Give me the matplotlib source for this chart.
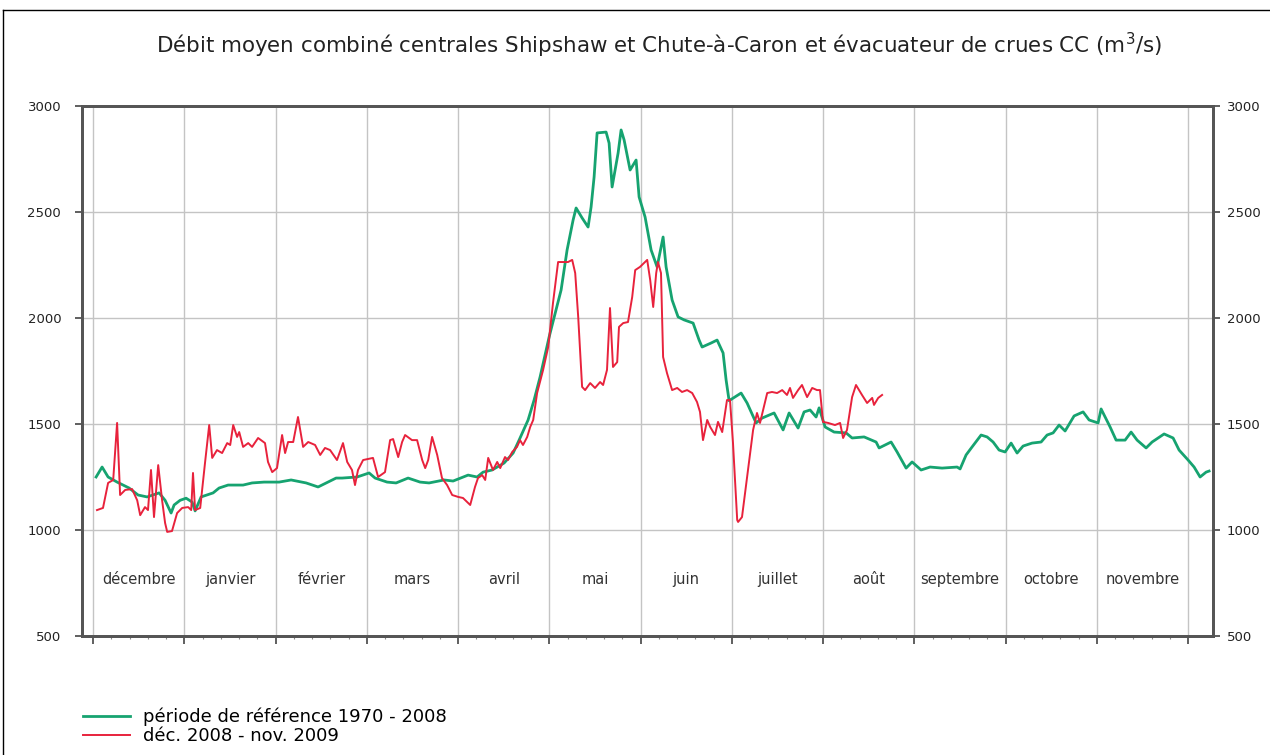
import matplotlib
matplotlib.use('Agg')
import matplotlib.pyplot as plt
import numpy as np
from matplotlib.lines import Line2D

plt.rcParams['font.family'] = ['DejaVu Sans']

months = ['décembre', 'janvier', 'février', 'mars', 'avril', 'mai',
          'juin', 'juillet', 'août', 'septembre', 'octobre', 'novembre']

# jours depuis le 1er décembre
ref_days = [1, 3, 5, 8, 12, 15, 18, 22, 24, 26, 27, 29, 31, 33, 34, 36, 40, 42, 45, 50,
            53, 57, 62, 66, 71, 75, 81, 83, 88, 92, 94, 98, 101, 105, 109, 112, 117, 120,
            125, 128, 130, 133, 137, 140, 142, 145, 147, 149, 152, 156, 158, 160, 161, 163,
            165, 166, 167, 168, 171, 172, 173, 175, 176, 177, 179, 181, 182, 184, 186, 188,
            190, 191, 193, 195, 197, 200, 202, 203, 206, 208, 210, 211, 212, 216, 218, 221,
            223, 227, 230, 232, 235, 237, 239, 241, 242, 244, 247, 251, 253, 257, 261, 262,
            266, 268, 271, 273, 276, 279, 283, 288, 289, 291, 293, 296, 298, 300, 302, 304,
            306, 308, 310, 313, 316, 318, 320, 322, 324, 327, 330, 332, 335, 336, 339, 341,
            344, 346, 348, 351, 353, 357, 360, 362, 365, 367, 369, 371, 372]
ref_vals = [1250, 1297, 1250, 1226, 1198, 1165, 1156, 1175, 1140, 1080, 1118, 1140, 1150,
            1132, 1090, 1156, 1175, 1198, 1212, 1212, 1222, 1226, 1226, 1236, 1222, 1203,
            1245, 1245, 1250, 1269, 1245, 1226, 1222, 1245, 1226, 1222, 1236, 1231, 1259,
            1250, 1273, 1283, 1316, 1363, 1424, 1519, 1613, 1722, 1910, 2132, 2321, 2462,
            2519, 2472, 2429, 2524, 2665, 2873, 2877, 2825, 2618, 2778, 2887, 2840, 2698,
            2745, 2571, 2476, 2321, 2241, 2382, 2241, 2085, 2005, 1991, 1976, 1896, 1863,
            1882, 1896, 1835, 1708, 1610, 1646, 1599, 1505, 1528, 1552, 1472, 1552, 1481,
            1557, 1566, 1533, 1576, 1486, 1462, 1458, 1434, 1439, 1415, 1387, 1415, 1368,
            1292, 1321, 1283, 1297, 1292, 1297, 1288, 1354, 1392, 1448, 1439, 1415, 1377,
            1368, 1410, 1363, 1396, 1410, 1415, 1448, 1458, 1495, 1467, 1538, 1557, 1519,
            1505, 1571, 1486, 1424, 1424, 1462, 1424, 1387, 1415, 1453, 1434, 1377, 1330,
            1297, 1250, 1273, 1278]

obs_days = [1.3, 3.3, 5, 6.7, 8, 9, 10.7, 13, 14.7, 15.7, 17.3, 18.3, 19.3, 20.3, 21.7, 23,
            24, 24.7, 26.3, 28, 29.7, 31.7, 32.7, 33.3, 34, 35.7, 37.3, 38.7, 39.7, 41.3,
            43, 44.7, 45.7, 46.7, 48, 48.7, 50, 51.7, 53, 55, 57.3, 58.3, 59.7, 61.3, 63,
            64, 65, 66.7, 68.3, 70, 71.7, 74, 75.7, 77.3, 79, 81.3, 83.3, 84.7, 86.3, 87.3,
            88.3, 90, 93.3, 95, 97.3, 99, 100, 101.7, 103, 104, 106.3, 108, 109.7, 110.7,
            111.7, 113, 114.7, 116.3, 118, 119.7, 121.7, 123.3, 124.7, 125.7, 127.3, 128.3,
            129.7, 130.7, 131.7, 133.3, 134.7, 135.7, 137.3, 138.3, 139.7, 141.3, 142.3,
            143.3, 144.7, 145.7, 146.7, 148, 150, 151.7, 153.3, 155, 156.7, 158.3, 159.7,
            160.7, 161.7, 163, 164, 165.7, 167.3, 169, 170, 171.3, 172.3, 173.3, 174.7,
            175.3, 176.7, 178.3, 179.7, 180.7, 182.3, 184, 184.7, 185.7, 186.7, 187.7, 188.3,
            189.3, 190, 191.3, 193, 194.7, 196.3, 198, 199.7, 201.3, 202.3, 203.3, 204.7,
            205.7, 207.3, 208.3, 209.7, 211.3, 212.3, 213.3, 214.7, 215, 216.3, 218, 220,
            221.3, 222.3, 224.7, 226.3, 228, 229.7, 231.3, 232.3, 233.3, 235, 236.3, 238,
            239.7, 241.3, 242.3, 243.3, 245, 247.3, 249, 250, 251.3, 253, 254.3, 256.3, 258,
            259.7, 260.3, 261.7, 263]
obs_vals = [1094, 1104, 1222, 1236, 1505, 1165, 1189, 1193, 1140, 1070, 1108, 1094, 1283,
            1061, 1306, 1140, 1033, 991, 995, 1080, 1104, 1108, 1094, 1269, 1094, 1104, 1316,
            1495, 1340, 1377, 1363, 1410, 1401, 1495, 1439, 1462, 1392, 1410, 1392, 1434,
            1410, 1321, 1273, 1292, 1448, 1363, 1415, 1415, 1533, 1392, 1415, 1401, 1354,
            1387, 1377, 1330, 1410, 1321, 1283, 1212, 1283, 1330, 1340, 1250, 1273, 1424,
            1429, 1344, 1415, 1448, 1424, 1424, 1330, 1292, 1330, 1439, 1354, 1245, 1212,
            1165, 1156, 1151, 1132, 1118, 1203, 1245, 1259, 1236, 1340, 1283, 1321, 1292,
            1344, 1330, 1368, 1392, 1424, 1401, 1439, 1486, 1519, 1646, 1755, 1863, 2071,
            2264, 2264, 2264, 2274, 2212, 2005, 1675, 1660, 1693, 1670, 1698, 1684, 1755,
            2047, 1769, 1792, 1958, 1976, 1981, 2099, 2226, 2241, 2264, 2274, 2179, 2052,
            2212, 2264, 2212, 1816, 1740, 1660, 1670, 1651, 1660, 1646, 1604, 1557, 1424,
            1519, 1486, 1448, 1510, 1462, 1613, 1613, 1410, 1047, 1038, 1061, 1250, 1472,
            1552, 1505, 1646, 1651, 1646, 1660, 1637, 1670, 1623, 1660, 1684, 1627, 1670,
            1660, 1660, 1510, 1505, 1495, 1505, 1434, 1472, 1627, 1684, 1637, 1599, 1623,
            1590, 1623, 1637]

y_ticks = [500, 1000, 1500, 2000, 2500, 3000]

fig = plt.figure(figsize=(12.7, 7.55), dpi=100)
ax = fig.add_axes([82 / 1270, 1 - 636 / 755, (1213 - 82) / 1270, (636 - 106) / 755])

month_len = 365 / 12
bounds = np.arange(13) * month_len

ax.plot(ref_days, ref_vals, color='#16a370', lw=2.0, zorder=3)
ax.plot(obs_days, obs_vals, color='#e8223c', lw=1.4, zorder=4)

ax.set_xlim(-3.7, 373.3)
ax.set_ylim(500, 3000)
ax.set_xticks(bounds)
ax.set_xticks(np.arange(0, 365, month_len / 5), minor=True)
ax.set_xticklabels([])
ax.set_yticks(y_ticks)
ax.tick_params(axis='y', direction='out', length=5, width=1.2, color='#444444',
               labelsize=9.5, labelcolor='#222222', pad=10)
ax.tick_params(axis='x', which='major', direction='out', length=6, width=1.2, color='#444444')
ax.tick_params(axis='x', which='minor', direction='out', length=2, width=0.8, color='#888888')

ax2 = ax.twinx()
ax2.set_ylim(500, 3000)
ax2.set_yticks(y_ticks)
ax2.tick_params(axis='y', direction='out', length=5, width=1.2, color='#444444',
                labelsize=9.5, labelcolor='#222222', pad=5)

for b in bounds:
    ax.axvline(b, color='#c4c4c4', lw=1.0, zorder=1)
for v in range(1000, 3000, 500):
    ax.axhline(v, color='#c4c4c4', lw=1.0, zorder=1)

for a in (ax, ax2):
    for s in a.spines.values():
        s.set_color('#555555')
        s.set_linewidth(2.0)

for i, m in enumerate(months):
    ax.text(bounds[i] + month_len / 2, 765, m, ha='center', va='center',
            fontsize=10.5, color='#333333')

fig.text(659 / 1270, 1 - 45 / 755,
         'Débit moyen combiné centrales Shipshaw et Chute-à-Caron et évacuateur de crues CC (m$^3$/s)',
         ha='center', va='center', fontsize=15.4, color='#222222')

handles = [Line2D([], [], color='#16a370', lw=2.0), Line2D([], [], color='#e8223c', lw=1.4)]
fig.legend(handles, ['période de référence 1970 - 2008', 'déc. 2008 - nov. 2009'],
           loc='center left', bbox_to_anchor=(83 / 1270, 1 - 726.5 / 755),
           frameon=False, fontsize=13, handlelength=2.6, handletextpad=0.72,
           labelspacing=0.05, borderpad=0, borderaxespad=0)

# cadre de la figure
fig.add_artist(Line2D([3 / 1270, 1], [1 - 10 / 755, 1 - 10 / 755], color='black', lw=1.0))
fig.add_artist(Line2D([3 / 1270, 3 / 1270], [0, 1 - 10 / 755], color='black', lw=1.0))

fig.savefig('out.png', dpi=100)
